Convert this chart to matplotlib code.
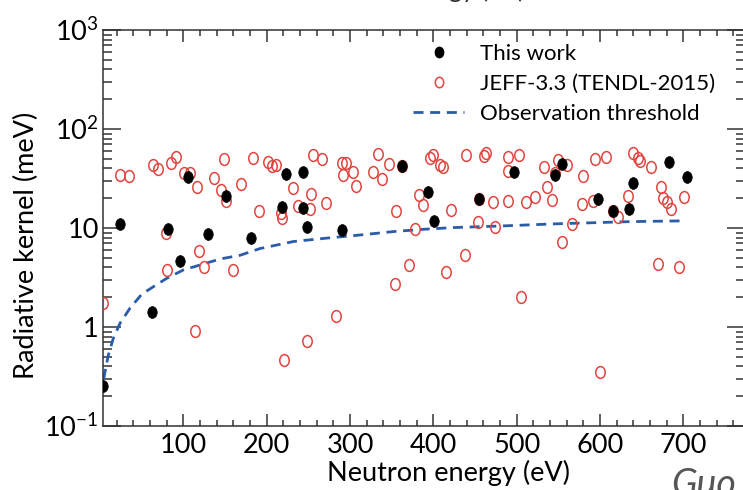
import numpy as np
import matplotlib
matplotlib.use("Agg")
import matplotlib.pyplot as plt
import matplotlib.ticker as mtick
from matplotlib.path import Path
from matplotlib.transforms import Affine2D
from matplotlib.lines import Line2D

plt.rcParams["font.family"] = ["Lato", "DejaVu Sans"]
plt.rcParams["mathtext.fontset"] = "custom"
plt.rcParams["mathtext.rm"] = "Lato"
plt.rcParams["mathtext.it"] = "Lato:italic"

# Measured resonances (this work): energy in eV, radiative kernel in meV
this_work_e = [4, 24, 62, 82, 96, 106, 130, 151, 181, 218, 223, 243, 243, 248,
               290, 362, 394, 401, 455, 497, 546, 554, 597, 616, 635, 640, 683, 704]
this_work_k = [0.255, 11, 1.43, 9.7, 4.6, 32.5, 8.6, 21, 7.9, 16.4, 35, 37, 15.8, 10.3,
               9.55, 42.6, 23.3, 11.9, 19.5, 36.5, 34, 44, 19.5, 15, 15.5, 28.3, 46.4, 33]

# Evaluated library values, JEFF-3.3 (TENDL-2015)
jeff_e = [4, 24, 35, 63, 69, 79, 80, 85, 91, 101, 108, 114, 116, 119, 125, 137, 145,
          149, 151, 159, 169, 183, 191, 202, 206, 211, 217, 218, 221, 231, 238, 248,
          252, 253, 256, 266, 271, 283, 290, 292, 295, 303, 307, 327, 334, 338, 347,
          354, 355, 362, 371, 378, 383, 388, 396, 399, 408, 412, 415, 421, 438, 439,
          454, 455, 461, 463, 471, 474, 489, 490, 490, 503, 505, 511, 522, 533, 536,
          542, 546, 549, 554, 560, 566, 578, 580, 591, 594, 600, 607, 616, 621, 633,
          640, 645, 648, 661, 669, 673, 675, 680, 685, 695, 701]
jeff_k = [1.76, 34.3, 33.5, 43, 39, 8.8, 3.77, 45, 51.8, 36, 35.7, 0.91, 26, 5.9, 4.06,
          31.8, 24.2, 49.4, 18.9, 3.77, 27.8, 50.6, 15, 46.7, 42.3, 43, 14.3, 12.5,
          0.46, 25.5, 16.7, 0.73, 15.6, 21.9, 54.6, 49.4, 17.7, 1.29, 45.7, 34.3, 45.7,
          36.5, 26.6, 36.5, 55.9, 31, 44, 2.72, 15, 42, 4.23, 9.7, 21.5, 17.1, 50.6,
          54.6, 43, 41, 3.6, 15.2, 5.3, 54.6, 11.6, 19.5, 53.3, 57, 18.4, 10.2, 37.9,
          52.5, 18.9, 54.6, 2.02, 18.3, 20.7, 41.6, 26, 19.2, 35.7, 48.6, 7.3, 43, 11,
          17.5, 33.5, 18.9, 49.8, 0.354, 51.8, 15, 12.8, 21, 56.8, 50.6, 47.9, 41, 4.33,
          25.8, 20, 18.4, 15.6, 4.0, 20.7]

# Observation threshold curve
thr_e = [4.5, 6, 10, 16, 24, 36, 50, 64, 80, 100, 120, 144, 168, 192, 232, 272,
         312, 352, 388, 424, 484, 544, 576, 636, 697]
thr_k = [0.3, 0.35, 0.52, 0.77, 1.09, 1.55, 2.14, 2.55, 3.1, 3.77, 4.23, 4.86, 5.3,
         6.2, 7.3, 7.9, 8.5, 9.2, 9.7, 10.1, 10.5, 11.0, 11.2, 11.6, 11.8]

x_ticks = [100, 200, 300, 400, 500, 600, 700]
y_ticks = [0.1, 1, 10, 100, 1000]
y_tick_labels = [r"$10^{-1}$", "1", "10", r"$10^{2}$", r"$10^{3}$"]

RED = "#e2453f"
BLUE = "#2b5ca8"
TICKSIZE = 19.5
LABELSIZE = 19.5

# slightly tall ellipse used for both marker sets
ellipse = Path.unit_circle().transformed(Affine2D().scale(0.8, 1.0))

W, H = 743, 490
fig = plt.figure(figsize=(W / 100, H / 100), dpi=100)
ax = fig.add_axes([103 / W, (H - 426) / H, (745 - 103) / W, (426 - 30) / H])

ax.plot(thr_e, thr_k, color=BLUE, lw=2.0, dashes=(3.6, 2.4), zorder=2)
ax.plot(jeff_e, jeff_k, ls="none", marker=ellipse, ms=8.5, mfc="none",
        mec=RED, mew=1.1, zorder=3)
ax.plot(this_work_e, this_work_k, ls="none", marker=ellipse, ms=8.5, mfc="black",
        mec="black", mew=0.5, zorder=4)

ax.set_yscale("log")
ax.set_xlim(3.6, 774)
ax.set_ylim(0.1, 1000)

ax.set_xticks(x_ticks)
ax.xaxis.set_minor_locator(mtick.MultipleLocator(20))
ax.set_yticks(y_ticks)
ax.set_yticklabels(y_tick_labels)
ax.yaxis.set_minor_locator(mtick.LogLocator(base=10, subs=np.arange(2, 10)))
ax.yaxis.set_minor_formatter(mtick.NullFormatter())

ax.tick_params(which="both", direction="in", top=True, right=True,
               labelsize=TICKSIZE, color="#333333", width=1.1)
ax.tick_params(axis="x", which="major", length=8.5, pad=5)
ax.tick_params(axis="x", which="minor", length=4.5)
ax.tick_params(axis="y", which="major", length=13, pad=3)
ax.tick_params(axis="y", which="minor", length=6.5)
for sp in ax.spines.values():
    sp.set_linewidth(1.1)
    sp.set_color("#333333")

ax.set_xlabel("Neutron energy (eV)", fontsize=LABELSIZE)
ax.set_ylabel("Radiative kernel (meV)", fontsize=LABELSIZE)
ax.xaxis.set_label_coords(0.538, -0.085)
ax.yaxis.set_label_coords(-0.1, 0.457)

handles = [
    Line2D([], [], ls="none", marker=ellipse, ms=7.5, mfc="black", mec="black"),
    Line2D([], [], ls="none", marker=ellipse, ms=7.5, mfc="none", mec=RED, mew=1.1),
    Line2D([], [], color=BLUE, lw=2.0, dashes=(3.6, 2.4)),
]
labels = ["This work", "JEFF-3.3 (TENDL-2015)", "Observation threshold"]
ax.legend(handles, labels, loc="upper left", frameon=False, fontsize=16,
          bbox_to_anchor=(413 / W, 1 - 44 / H), bbox_transform=fig.transFigure,
          borderpad=0, borderaxespad=0, handlelength=2.3, handletextpad=0.7,
          labelspacing=0.45)

# clipped heading above and author credit below
fig.text(525 / W, 1 + 2 / H, "Radiative kernel vs. neutron energy (eV)",
         ha="right", va="baseline", fontsize=18, color="#333333")
fig.text(671 / W, -6 / H, "Guo", ha="left", va="baseline", fontsize=27,
         style="italic", color="#555555")

fig.savefig("out.png", dpi=100)
